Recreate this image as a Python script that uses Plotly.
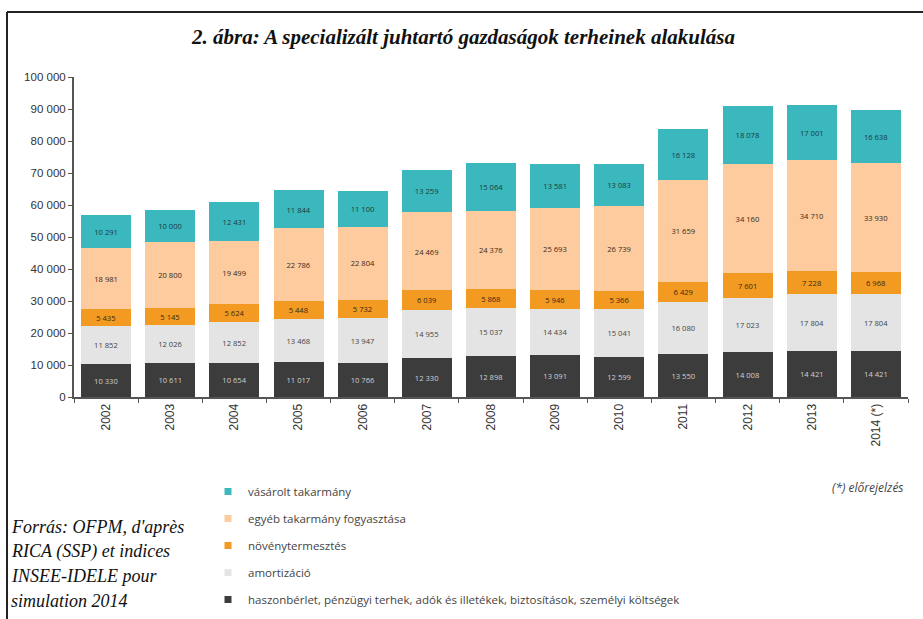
import plotly.graph_objects as go

years = ["2002", "2003", "2004", "2005", "2006", "2007", "2008", "2009", "2010", "2011", "2012", "2013", "2014 (*)"]
haszonberlet = [10330, 10611, 10654, 11017, 10766, 12330, 12898, 13091, 12599, 13550, 14008, 14421, 14421]
amortizacio = [11852, 12026, 12852, 13468, 13947, 14955, 15037, 14434, 15041, 16080, 17023, 17804, 17804]
novenytermesztes = [5435, 5145, 5624, 5448, 5732, 6039, 5868, 5946, 5366, 6429, 7601, 7228, 6968]
egyeb_takarmany = [18981, 20800, 19499, 22786, 22804, 24469, 24376, 25693, 26739, 31659, 34160, 34710, 33930]
vasarolt_takarmany = [10291, 10000, 12431, 11844, 11100, 13259, 15064, 13581, 13083, 16128, 18078, 17001, 16638]

series = [
    ("haszonbérlet, pénzügyi terhek, adók és illetékek, biztosítások, személyi költségek", haszonberlet, "#3c3c3c", "#d0d0d0"),
    ("amortizáció", amortizacio, "#e4e4e4", "#444444"),
    ("növénytermesztés", novenytermesztes, "#f39a22", "#3a2a10"),
    ("egyéb takarmány fogyasztása", egyeb_takarmany, "#fdcb9d", "#3a2a20"),
    ("vásárolt takarmány", vasarolt_takarmany, "#3bb8be", "#1c3a3c"),
]

L, R, T, B = 74, 15, 77, 222
W, H = 923, 619
PW, PH = W - L - R, H - T - B


def px(x):
    return (x - L) / PW


def py(y):
    return (H - B - y) / PH


fig = go.Figure()
for i, (name, vals, color, tcolor) in enumerate(series):
    fig.add_trace(go.Bar(
        x=years, y=vals, name=name, marker_color=color,
        marker_line_width=0,
        text=[f"{v:,}".replace(",", " ") for v in vals],
        textposition="inside", insidetextanchor="middle",
        textangle=0,
        textfont=dict(size=8, color=tcolor, family="Open Sans"),
        showlegend=False,
        hoverinfo="x+y+name",
    ))
# legend entries with small square symbols (top-to-bottom order)
for i, (name, vals, color, tcolor) in enumerate(reversed(series)):
    fig.add_trace(go.Scatter(
        x=[None], y=[None], mode="markers", name=name,
        marker=dict(symbol="square", size=7, color=color),
        legendgroup=f"g{i}", showlegend=True,
    ))

fig.update_layout(
    barmode="stack",
    bargap=0.22,
    width=W, height=H, autosize=False,
    margin=dict(l=L, r=R, t=T, b=B, autoexpand=False),
    paper_bgcolor="white", plot_bgcolor="white",
    separators=", ",
    uniformtext=dict(minsize=6, mode="show"),
    font=dict(family="Liberation Sans, Arial", color="#333333"),
    legend=dict(
        x=px(208), y=py(477), xanchor="left", yanchor="top",
        traceorder="grouped", tracegroupgap=8,
        font=dict(size=11.5, family="Open Sans", color="#444444"),
        itemwidth=30, bgcolor="rgba(0,0,0,0)",
    ),
    xaxis=dict(
        type="category", tickangle=-90, showgrid=False,
        showline=True, linecolor="#555555", linewidth=2,
        ticks="outside", tickson="boundaries", ticklen=4, tickcolor="#555555",
        tickfont=dict(size=12, family="Liberation Sans, Arial", color="#333333"),
        range=[-0.5, 12.5],
    ),
    yaxis=dict(
        range=[0, 100000], dtick=10000, tickformat=",d",
        showgrid=False, zeroline=False,
        showline=True, linecolor="#555555", linewidth=2,
        ticks="outside", ticklen=4, tickcolor="#555555",
        tickfont=dict(size=11.5, family="Liberation Sans, Arial", color="#333333"),
    ),
)

# frame lines
fig.add_shape(type="line", xref="paper", yref="paper", x0=px(7), x1=px(7), y0=py(625), y1=py(12),
              line=dict(color="#222222", width=2))
fig.add_shape(type="line", xref="paper", yref="paper", x0=px(7), x1=px(930), y0=py(12), y1=py(12),
              line=dict(color="#222222", width=2))

fig.add_annotation(
    xref="paper", yref="paper", x=px(463), y=py(37), xanchor="center", yanchor="middle",
    text="<b><i>2. ábra: A specializált juhtartó gazdaságok terheinek alakulása</i></b>",
    showarrow=False, font=dict(family="Liberation Serif, Times New Roman", size=21, color="#111111"),
)
source_lines = ["Forrás: OFPM, d'après", "RICA (SSP) et indices", "INSEE-IDELE pour", "simulation 2014"]
for k, line in enumerate(source_lines):
    fig.add_annotation(
        xref="paper", yref="paper", x=px(9), y=py(527 + 24.5 * k), xanchor="left", yanchor="middle",
        text=f"<i>{line}</i>", showarrow=False, align="left",
        font=dict(family="Liberation Serif, Times New Roman", size=18, color="#111111"),
    )
fig.add_annotation(
    xref="paper", yref="paper", x=px(906), y=py(487), xanchor="right", yanchor="middle",
    text="<i>(*) előrejelzés</i>",
    showarrow=False, font=dict(family="Open Sans", size=12, color="#444444"),
)

fig.write_html("out.html", config={"displayModeBar": False},
               post_script="document.body.style.margin='0';document.body.style.padding='0';")
